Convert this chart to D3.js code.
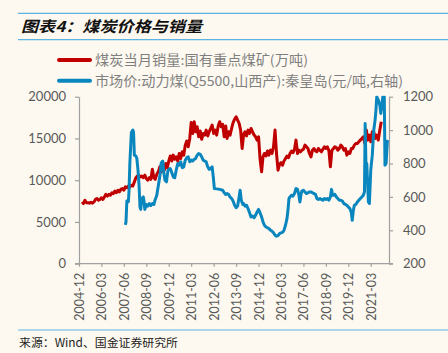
<!DOCTYPE html>
<html><head><meta charset="utf-8">
<script src="https://cdn.jsdelivr.net/npm/d3@7"></script>
<style>
html,body{margin:0;padding:0;background:#fdf9f0;}
svg{display:block;}
</style></head><body>
<svg id="c" width="448" height="353"></svg>
<script>
// ---------- data ----------
const titleText = "图表4：煤炭价格与销量";
const sourceText = "来源：Wind、国金证券研究所";
const seriesNames = ["煤炭当月销量:国有重点煤矿(万吨)", "市场价:动力煤(Q5500,山西产):秦皇岛(元/吨,右轴)"];
const leftTicks = [0, 5000, 10000, 15000, 20000];
const rightTicks = [200, 400, 600, 800, 1000, 1200];
const xTickLabels = ["2004-12","2006-03","2007-06","2008-09","2009-12","2011-03","2012-06","2013-09","2014-12","2016-03","2017-06","2018-09","2019-12","2021-03"];
const xDomain = ["2004-12-01", "2022-03-07"];

// monthly sales (万吨), first month 2005-02
const salesStart = "2005-02";
const salesValues = [
  7400,7200,7600,7300,7300,7250,7350,7250,7400,7700,7800,
  7600,7700,7900,7700,8000,8300,8100,8300,8200,8500,8400,8700,
  8500,8800,8600,8900,9000,8800,9200,9100,9300,9200,9400,9300,
  9800,10300,10500,10600,10400,10500,10300,10600,10200,10000,10300,10100,
  11300,10300,10100,10700,11000,11600,11000,11800,11200,12000,11500,12300,
  12900,12300,13000,12500,12800,12300,13200,12600,13400,13000,14200,14700,
  14000,15000,16900,15600,17000,15800,16400,15200,15900,14900,15600,15400,
  16000,15300,15800,16200,16600,15600,16000,15400,16500,17000,16400,16700,
  15200,16500,15000,15800,15400,16200,16900,17300,17600,17200,16800,16000,
  13800,15500,15800,15300,16000,15600,16200,15800,15400,15200,14800,15200,
  12500,11000,12800,13200,12900,13500,13000,13600,13200,14000,16000,13200,
  11200,11900,12100,11800,12300,12600,12900,12700,13200,13500,13300,13700,
  14800,13200,13600,13400,13600,13700,14200,14000,13800,13200,12800,13600,
  13800,13500,13400,13800,13600,13400,13700,14000,13800,14000,13500,11600,
  13600,13800,14000,13900,13600,13800,14200,14000,13600,13800,13000,13400,
  13200,13800,13800,14200,14400,14400,14600,14800,15000,15200,14400,16000,
  14800,15400,14600,15800,15800,15000,15400,14800,16000,17000
];

// price (元/吨)
const pricePoints = [
  ["2007-07-01",432],["2007-07-15",450],["2007-08-01",575],["2007-09-01",571],["2007-09-15",640],
  ["2007-10-01",800],["2007-11-01",985],["2007-12-01",1000],["2007-12-15",990],["2008-01-01",850],
  ["2008-02-01",845],["2008-02-21",830],["2008-03-15",760],["2008-04-07",660],["2008-04-24",540],
  ["2008-05-10",525],["2008-06-01",590],["2008-07-01",600],["2008-07-15",575],["2008-08-01",525],
  ["2008-09-01",555],["2008-10-01",545],["2008-11-01",560],["2008-12-01",548],["2009-01-01",560],
  ["2009-02-01",555],["2009-03-01",585],["2009-04-01",610],["2009-05-01",665],["2009-06-01",720],
  ["2009-07-01",805],["2009-08-01",815],["2009-08-24",740],["2009-09-15",700],["2009-10-15",690],
  ["2009-11-15",760],["2010-01-01",770],["2010-02-01",745],["2010-03-01",720],["2010-04-01",715],
  ["2010-05-01",760],["2010-06-01",800],["2010-07-01",790],["2010-08-01",810],["2010-09-01",775],
  ["2010-10-01",780],["2010-11-01",820],["2010-12-01",835],["2011-01-01",840],["2011-02-01",810],
  ["2011-03-01",820],["2011-04-01",815],["2011-05-01",825],["2011-06-01",830],["2011-07-01",850],
  ["2011-08-01",860],["2011-09-01",855],["2011-10-01",840],["2011-11-01",820],["2011-12-01",815],
  ["2012-01-01",810],["2012-02-01",780],["2012-03-01",765],["2012-04-01",770],["2012-05-01",780],
  ["2012-05-24",720],["2012-06-15",650],["2012-08-01",648],["2012-10-01",645],["2012-12-01",640],
  ["2013-01-01",625],["2013-02-01",615],["2013-03-01",620],["2013-04-01",615],["2013-05-01",600],
  ["2013-06-01",590],["2013-07-01",575],["2013-08-01",550],["2013-09-01",535],["2013-10-01",545],
  ["2013-11-01",600],["2013-11-21",640],["2013-12-15",580],["2014-01-15",555],["2014-02-01",560],
  ["2014-03-01",545],["2014-04-01",550],["2014-05-01",530],["2014-06-01",505],["2014-07-01",480],
  ["2014-08-01",485],["2014-09-01",475],["2014-10-01",490],["2014-11-01",510],["2014-12-01",525],
  ["2015-01-01",505],["2015-02-01",480],["2015-03-01",450],["2015-04-01",430],["2015-05-01",420],
  ["2015-06-01",415],["2015-07-01",410],["2015-08-01",400],["2015-09-01",395],["2015-10-01",385],
  ["2015-11-01",370],["2015-12-01",365],["2016-01-01",368],["2016-02-01",380],["2016-03-01",385],
  ["2016-04-01",388],["2016-05-01",400],["2016-06-01",430],["2016-07-01",470],["2016-07-21",520],
  ["2016-08-10",590],["2016-09-01",600],["2016-10-01",610],["2016-11-01",605],["2016-12-01",620],
  ["2017-01-01",650],["2017-02-01",645],["2017-03-01",610],["2017-03-21",570],["2017-04-15",620],
  ["2017-05-01",635],["2017-06-01",640],["2017-07-01",630],["2017-08-01",620],["2017-09-01",625],
  ["2017-10-01",630],["2017-11-01",630],["2017-12-01",625],["2018-01-01",620],["2018-02-01",615],
  ["2018-03-01",590],["2018-04-01",585],["2018-05-01",590],["2018-06-01",585],["2018-07-01",580],
  ["2018-08-01",590],["2018-09-01",585],["2018-10-01",590],["2018-11-01",580],["2018-12-01",600],
  ["2018-12-24",645],["2019-01-15",610],["2019-02-01",610],["2019-03-01",615],["2019-04-01",600],
  ["2019-05-01",590],["2019-06-01",580],["2019-07-01",580],["2019-08-01",575],["2019-09-01",560],
  ["2019-10-01",555],["2019-11-01",550],["2019-12-01",540],["2020-01-01",530],["2020-02-01",505],
  ["2020-02-18",460],["2020-03-12",520],["2020-04-01",550],["2020-05-01",555],["2020-06-01",570],
  ["2020-07-01",580],["2020-08-01",590],["2020-09-01",600],["2020-10-01",610],["2020-10-24",630],
  ["2020-11-07",1040],["2020-11-24",780],["2020-12-10",800],["2021-01-12",570],["2021-02-01",560],
  ["2021-03-01",760],["2021-04-01",850],["2021-05-01",1000],["2021-05-28",1060],["2021-06-15",1120],
  ["2021-07-01",1200],["2021-08-01",1180],["2021-09-01",1150],["2021-09-21",1100],["2021-10-10",1140],
  ["2021-11-01",1200],["2021-12-01",1200],["2021-12-15",790],["2022-01-07",800],["2022-02-01",930],
  ["2022-02-15",940]
];

// ---------- drawing ----------
const svg = d3.select("#c");
const parseDay = d3.timeParse("%Y-%m-%d");
const parseMonth = d3.timeParse("%Y-%m");
const salesData = salesValues.map((v, i) => ({d: d3.timeMonth.offset(parseMonth(salesStart), i), v}));
const priceData = pricePoints.map(p => ({d: parseDay(p[0]), v: p[1]}));

const L = 79, R = 389, T = 96.7, B = 263.7;
const x = d3.scaleTime().domain(xDomain.map(parseDay)).range([L, R]);
const yL = d3.scaleLinear().domain([0, 20000]).range([B, T]);
const yR = d3.scaleLinear().domain([200, 1200]).range([B, T]);

const sepColor = "#5cb3e4";
[13.3, 39.7, 330].forEach(yy => svg.append("line").attr("x1", 18).attr("x2", 448).attr("y1", yy).attr("y2", yy)
  .attr("stroke", sepColor).attr("stroke-width", 1.2));

svg.append("text").attr("x", 21).attr("y", 31.5).text(titleText)
  .attr("font-family", "'Noto Sans CJK SC'").attr("font-size", 15).attr("font-weight", "bold")
  .attr("font-style", "italic").attr("fill", "#111").attr("textLength", 181).attr("lengthAdjust", "spacingAndGlyphs");

svg.append("text").attr("x", 19).attr("y", 346.5).text(sourceText)
  .attr("font-family", "'Noto Sans CJK SC'").attr("font-size", 11.5).attr("fill", "#222")
  .attr("textLength", 159).attr("lengthAdjust", "spacingAndGlyphs");

// legend
const legColors = ["#c00000", "#0a86bf"];
const legY = [60, 80.7];
const legW = [213, 308];
seriesNames.forEach((n, i) => {
  svg.append("line").attr("x1", 59).attr("x2", 90).attr("y1", legY[i]).attr("y2", legY[i])
    .attr("stroke", legColors[i]).attr("stroke-width", 4).attr("stroke-linecap", "round");
  svg.append("text").attr("x", 95).attr("y", legY[i]).attr("dy", "0.36em").text(n)
    .attr("font-family", "'Noto Sans CJK SC'").attr("font-size", 13.5).attr("fill", "#7f7f7f")
    .attr("textLength", legW[i]).attr("lengthAdjust", "spacingAndGlyphs");
});

const axisColor = "#a0a0a0", labelColor = "#595959";
const fontNum = "Lato, 'Liberation Sans', sans-serif";

const gL = svg.append("g").attr("transform", `translate(${L},0)`)
  .call(d3.axisLeft(yL).tickValues(leftTicks).tickFormat(d3.format("d")).tickSize(4).tickPadding(9).tickSizeOuter(0));
const gR = svg.append("g").attr("transform", `translate(${R},0)`)
  .call(d3.axisRight(yR).tickValues(rightTicks).tickFormat(d3.format("d")).tickSize(4).tickPadding(10).tickSizeOuter(0));
const gX = svg.append("g").attr("transform", `translate(0,${B})`)
  .call(d3.axisBottom(x).tickValues(xTickLabels.map(parseMonth)).tickSize(3).tickSizeOuter(0)
    .tickFormat(d3.timeFormat("%Y-%m")));
gX.select(".domain").remove();
gX.selectAll("text").attr("transform", "rotate(-90)").attr("text-anchor", "end")
  .attr("x", -9).attr("y", 0).attr("dy", "0.36em").attr("font-size", 12.5);
svg.append("line").attr("x1", L - 4).attr("x2", R + 4).attr("y1", B).attr("y2", B)
  .attr("stroke", axisColor).attr("stroke-width", 1.2);
[gL, gR, gX].forEach(g => {
  g.selectAll("path,line").attr("stroke", axisColor).attr("stroke-width", 1.2);
  g.selectAll("text").attr("fill", labelColor).attr("font-family", fontNum);
});
gL.selectAll("text").attr("font-size", 13);
gR.selectAll("text").attr("font-size", 13);

svg.append("defs").append("clipPath").attr("id", "clip").append("rect")
  .attr("x", L).attr("y", T - 1).attr("width", R - L).attr("height", B - T + 1);

svg.append("path").datum(salesData).attr("clip-path", "url(#clip)")
  .attr("d", d3.line().x(d => x(d.d)).y(d => yL(d.v)))
  .attr("fill", "none").attr("stroke", legColors[0]).attr("stroke-width", 3).attr("stroke-linejoin", "round");
svg.append("path").datum(priceData).attr("clip-path", "url(#clip)")
  .attr("d", d3.line().x(d => x(d.d)).y(d => yR(d.v)))
  .attr("fill", "none").attr("stroke", legColors[1]).attr("stroke-width", 3).attr("stroke-linejoin", "round");
</script>
</body></html>
